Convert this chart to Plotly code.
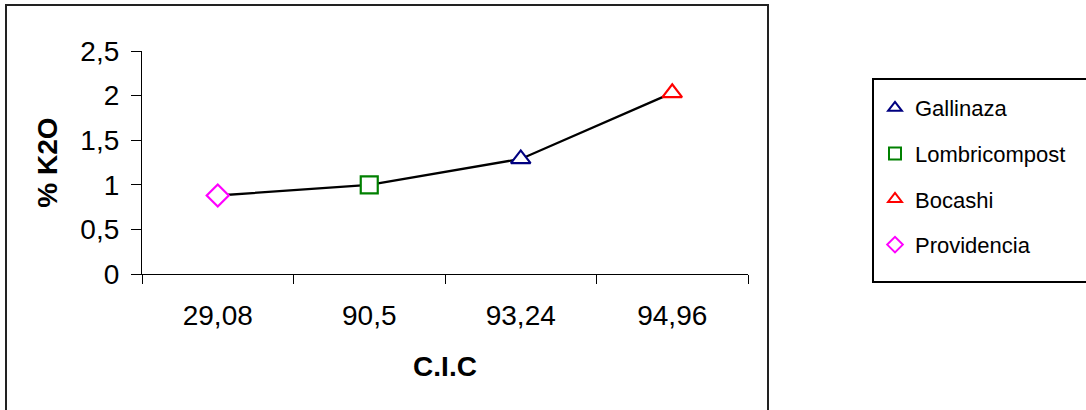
import plotly.graph_objects as go

cic_labels = ["29,08", "90,5", "93,24", "94,96"]
k2o_values = [0.88, 1.0, 1.29, 2.03]
point_sources = ["Providencia", "Lombricompost", "Gallinaza", "Bocashi"]

legend_order = ["Gallinaza", "Lombricompost", "Bocashi", "Providencia"]
source_symbols = {"Gallinaza": "triangle-up", "Lombricompost": "square",
                  "Bocashi": "triangle-up", "Providencia": "diamond"}
source_colors = {"Gallinaza": "#000080", "Lombricompost": "#008000",
                 "Bocashi": "#FF0000", "Providencia": "#FF00FF"}

W, H = 1086, 410
L, R, T, B = 142, 1086 - 748, 51, 410 - 274
pw, ph = W - L - R, H - T - B

def px_x(p):
    return (p - L) / pw

def px_y(p):
    return (H - B - p) / ph

FONT = "Liberation Sans, Arial, sans-serif"

fig = go.Figure()
fig.add_trace(go.Scatter(x=cic_labels, y=k2o_values, mode="lines",
                         line=dict(color="black", width=2.3),
                         showlegend=False, hoverinfo="skip"))
for name in legend_order:
    i = point_sources.index(name)
    fig.add_trace(go.Scatter(
        x=[cic_labels[i]], y=[k2o_values[i]], mode="markers", name=name,
        legendgroup=name,
        marker=dict(symbol=source_symbols[name], size=17, color="white",
                    line=dict(color=source_colors[name], width=2.2))))

fig.update_layout(
    width=W, height=H,
    margin=dict(l=L, r=R, t=T, b=B),
    paper_bgcolor="white", plot_bgcolor="white",
    separators=", ",
    font=dict(family=FONT, color="black", size=28),
    xaxis=dict(type="category", range=[-0.5, 3.5], tickson="boundaries",
               ticks="outside", ticklen=9, tickcolor="black", tickwidth=1,
               showline=True, linecolor="black", linewidth=1.3,
               showgrid=False, zeroline=False,
               tickfont=dict(size=28), ticklabelstandoff=16,
               title=dict(text="<b>C.I.C</b>", font=dict(size=28), standoff=26)),
    yaxis=dict(range=[0, 2.5], tickvals=[0, 0.5, 1, 1.5, 2, 2.5],
               ticktext=["0", "0,5", "1", "1,5", "2", "2,5"],
               ticks="outside", ticklen=10, tickcolor="black", tickwidth=1,
               showline=True, linecolor="black", linewidth=1.3,
               showgrid=False, zeroline=False,
               tickfont=dict(size=28), ticklabelstandoff=6,
               title=dict(text="<b>% K2O</b>", font=dict(size=28), standoff=14)),
    legend=dict(x=px_x(875), y=px_y(87), xanchor="left", yanchor="top",
                bgcolor="rgba(0,0,0,0)", borderwidth=0,
                font=dict(size=22, family=FONT), itemsizing="constant",
                tracegroupgap=14),
    shapes=[
        dict(type="rect", xref="paper", yref="paper",
             x0=px_x(6), x1=px_x(768), y0=px_y(415), y1=px_y(5),
             line=dict(color="#222222", width=2), fillcolor="rgba(0,0,0,0)"),
        dict(type="rect", xref="paper", yref="paper",
             x0=px_x(873), x1=px_x(1090), y0=px_y(282), y1=px_y(79),
             line=dict(color="black", width=2), fillcolor="rgba(0,0,0,0)"),
    ],
)

fig.write_html("out.html")
